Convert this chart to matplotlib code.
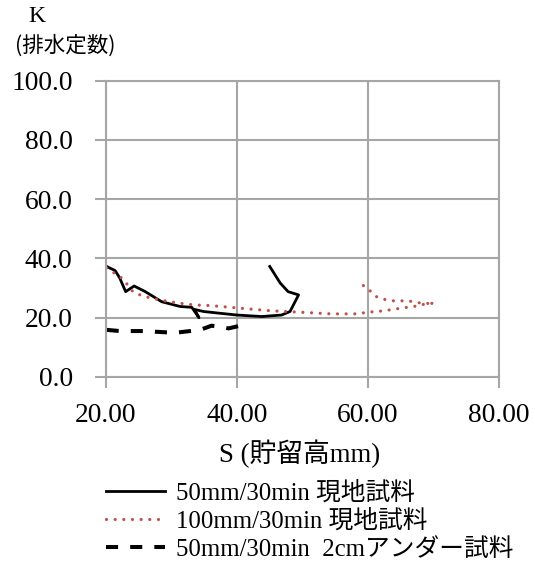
import matplotlib
matplotlib.use("Agg")
import matplotlib.pyplot as plt

# ---- data ----
s_50_field = [20.1, 21.4, 22.1, 23.0, 24.3, 26.0, 28.5, 31.3, 33.1, 34.2, 33.5, 34.9, 37.4,
              40.0, 43.8, 46.8, 48.1, 49.4, 47.8, 46.6, 45.0]
k_50_field = [37.3, 35.9, 33.4, 28.8, 30.7, 28.8, 25.4, 23.8, 23.5, 20.0, 22.8, 22.1, 21.5,
              20.9, 20.4, 20.9, 22.1, 27.7, 28.8, 31.7, 37.3]

s_100_field = [20.1, 22.4, 23.3, 24.1, 25.2, 26.4, 28.7, 31.2, 33.5, 36.0, 38.5, 41.6, 45.4,
               49.3, 54.4, 58.5, 59.7, 62.3, 65.0, 67.6, 68.8, 70.1, 68.8, 67.6, 66.1, 65.0,
               63.7, 62.5, 61.3, 60.3, 59.2]
k_100_field = [36.8, 33.4, 31.1, 28.8, 27.7, 26.9, 25.8, 24.9, 24.3, 24.1, 23.6, 23.0, 22.3,
               21.9, 21.3, 21.3, 21.8, 22.3, 23.2, 24.0, 24.7, 24.9, 24.8, 25.1, 25.7, 25.7,
               25.7, 26.2, 27.1, 29.1, 31.0]

s_50_under = [20.1, 22.1, 25.7, 30.5, 34.4, 36.1, 37.4, 38.7, 40.5]
k_50_under = [15.9, 15.5, 15.5, 14.9, 15.9, 17.3, 17.0, 16.4, 17.3]

labels = ["50mm/30min 現地試料", "100mm/30min 現地試料", "50mm/30min  2cmアンダー試料"]
x_ticks = [20, 40, 60, 80]
y_ticks = [0, 20, 40, 60, 80, 100]

FAM = ["Liberation Serif", "Noto Sans CJK JP", "DejaVu Sans"]
plt.rcParams["font.family"] = FAM

fig = plt.figure(figsize=(5.35, 5.71), dpi=100)
ax = fig.add_axes([0.1981, 0.3398, 0.7346, 0.5189])

grid_c = "#a6a6a6"
l1, = ax.plot(s_50_field, k_50_field, color="black", lw=2.0, solid_joinstyle="round")
l2, = ax.plot(s_100_field, k_100_field, color="#c0504d", lw=2.3,
              linestyle=(0, (0.01, 2.7)), dash_capstyle="round")
l3, = ax.plot(s_50_under, k_50_under, color="black", lw=2.9, linestyle=(0, (3.0, 3.0)))

ax.set_xlim(20, 80)
ax.set_ylim(0, 100)
ax.set_xticks(x_ticks)
ax.set_yticks(y_ticks)
ax.set_xticklabels([f"{v:.2f}" for v in x_ticks])
ax.set_yticklabels([f"{v:.1f}" for v in y_ticks])
ax.grid(True, color=grid_c, lw=1.5)
ax.set_axisbelow(True)
for sp in ax.spines.values():
    sp.set_color(grid_c)
    sp.set_linewidth(1.5)
ax.tick_params(axis="both", direction="out", color=grid_c, width=1.5, length=8,
               labelsize=19.8)
ax.tick_params(axis="x", pad=11)
ax.tick_params(axis="y", pad=16)

fig.text(37 / 535, 1 - 17 / 571, "K", ha="center", va="center", fontsize=17)
fig.text(65 / 535, 1 - 46 / 571, "(排水定数)", ha="center", va="center", fontsize=15.5,
         family=["Noto Sans CJK JP", "DejaVu Sans"])
fig.text(300 / 535, 1 - 454 / 571, "S (貯留高mm)", ha="center", va="center", fontsize=19.3)

fig.legend(handles=[l1, l2, l3], labels=labels, loc="upper left",
           bbox_to_anchor=(106 / 535, 1 - 481 / 571), frameon=False, fontsize=17.8,
           handlelength=2.4, handletextpad=0.45, labelspacing=0.2, borderpad=0,
           borderaxespad=0)

fig.savefig("out.png", dpi=100)
